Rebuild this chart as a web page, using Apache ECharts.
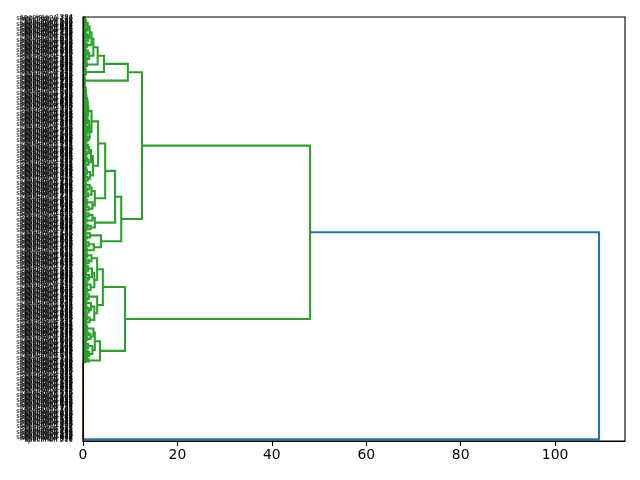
<!DOCTYPE html>
<html><head><meta charset="utf-8">
<script src="https://cdn.jsdelivr.net/npm/echarts@6/dist/echarts.min.js"></script>
<style>html,body{margin:0;padding:0;background:#fff}#c{width:640px;height:480px}</style>
</head><body><div id="c"></div>
<script>
// Merge heights between consecutive leaves (bottom -> top), read/.
const orangeGaps = [0,0,0,0,0,0,0,0,0,0, 0,0,0,0,0,0,0,0,0,0, 0,0,0,0,0,0,0,0,0,0,
                    0,0,0,0,0,0,0,0,0,0, 0,0,0,0,0,0,0,0,0,0, 0,0,0,0,0,0,0,0,0,0,
                    0,0,0,0,0,0,0,0,0,0, 0,0,0];
const rootHeight = 109.3;
const b1Gaps  = [0.5,1.2,0.7, 3.6,
                 0.4,0.9,0.3,1.3,0.6,1.0,0.4,2.0,0.35,0.7,1.1,0.4,0.6,0.3,0.5, 2.5,
                 0.6,0.3,0.9,1.6,0.4,0.7,1.2,0.35,2.2,0.5,0.9,0.4,0.6,0.3,0.7];
const bJoin1 = 8.9;
const b2lGaps = [0.4,0.7,0.3,1.4,0.5,0.9,0.35,0.8,0.45,2.4,0.7,0.3,1.2,0.5,0.4,0.8,1.7,0.35,0.6,0.3,0.7, 3.0,
                 0.4,0.8,0.3,1.2,0.5,0.35,0.7];
const bJoin2 = 4.2;
const b2uGaps = [0.5,0.9,0.3,0.4,1.6,0.7,0.35,0.8,0.45,2.4,0.5,0.3,1.0,0.4,1.3,0.6,0.35,0.45,1.9,0.7,0.3,0.5,1.1,0.4,0.7, 3.0,
                 0.4,0.7,0.3,1.2,0.5,1.8,0.35,0.6,0.9,0.3,0.45];
const greenHeight = 48.1;
const a2lGaps = [0.5,0.8,0.3,2.3,0.4,0.7,1.2,0.35,0.6,0.3,0.45, 3.8, 0.5,0.9,0.3,1.5,0.4,0.7,0.35];
const aJoin1 = 8.1;
const a2uGaps = [0.4,0.7,1.6,0.3,1.0,0.5,0.35, 2.5, 0.5,0.8,0.3,2.0,0.45,0.7,1.2,0.35,0.5,
                 6.8,
                 0.4,0.5,1.2,0.3,0.7,2.0,0.5,0.35,0.9,0.7,0.3,0.4,0.6, 2.5,
                 0.5,1.1,0.3,0.45,1.8,0.7,0.35,0.8,1.4,0.4,0.6,0.3,0.5,
                 4.7,
                 0.4,0.5,1.0,0.3,0.45,0.4,1.5,0.7,0.8,0.35, 0.7,0.5,0.3,0.6,2.1,0.4,0.5,1.2,0.3,0.45,
                 0.9,0.35,0.7,1.7,0.4,0.6,0.3,0.8,0.5,1.3, 0.35,0.4,1.0,0.3,0.7,0.45,0.5,
                 3.2,
                 0.5,0.9,0.4,1.2,0.7,0.45,1.4,0.5,0.8,0.4, 1.1,0.6,0.35,0.9,0.5,1.3,0.4,0.7,0.5,1.0,
                 0.5,0.6,1.8,0.6,0.9,0.5,1.1,0.7,0.5,0.8, 0.6,1.0,0.5,0.65,0.7,0.5,0.9,0.45,0.6,0.7,
                 0.45,0.5,0.65,0.4,0.6,0.35,0.5,0.45,0.55,0.3, 0.45,0.35,0.3];
const aJoin2 = 12.5;
const a1bGaps = [0.15,0.3,0.2,0.4,0.15,0.3,0.25];
const aJoin3 = 9.5;
const a1aGaps = [0.2,0.4,0.25,0.6,0.3,0.2,0.35, 4.45,
                 0.3,0.5,0.8,0.2,0.4, 3.1,
                 0.4,0.8,0.3,0.6,1.3,0.35,0.7,1.0,0.4,0.3,0.5, 2.2,
                 0.4,0.7,0.3,0.9,0.5,1.8,0.35,0.45,1.1,0.3, 0.6,0.4,0.8,0.35,1.4,0.5,0.3,0.7,0.4,1.0,
                 0.3,0.45,0.35,0.6,0.4,0.3,0.5,0.35,0.4];
const xTicks = [0, 20, 40, 60, 80, 100];
const labelStems = ['specimen ', 'specimen_A ', 'specimen ', 'specimen 1', 'specimens '];

const gaps = [].concat(orangeGaps, [rootHeight], b1Gaps, [bJoin1], b2lGaps, [bJoin2], b2uGaps,
  [greenHeight], a2lGaps, [aJoin1], a2uGaps, [aJoin2], a1bGaps, [aJoin3], a1aGaps);
const N = gaps.length + 1;
// leaf names are unreadable in the reference; placeholder names
const leafLabels = [];
for (let i = 0; i < N; i++) leafLabels.push(labelStems[(i * 7) % 5] + String((i * 617 + 211) % 1000).padStart(3, '0'));

const links = { blue: [], orange: [], green: [] };
function build(lo, hi, col) {
  if (lo === hi) return { pos: lo * 10 + 5, h: 0 };
  let m = lo;
  for (let k = lo; k < hi; k++) if (gaps[k] > gaps[m]) m = k;
  const h = gaps[m];
  const isRoot = (lo === 0 && hi === N - 1);
  const L = build(lo, m, isRoot ? 'orange' : col);
  const R = build(m + 1, hi, isRoot ? 'green' : col);
  links[isRoot ? 'blue' : col].push([L.h, L.pos, h, L.pos, h, R.pos, R.h, R.pos]);
  return { pos: (L.pos + R.pos) / 2, h: h };
}
build(0, N - 1, 'blue');

function renderItem(params, api) {
  const pts = [];
  for (let k = 0; k < 4; k++) pts.push(api.coord([api.value(2 * k), api.value(2 * k + 1)]));
  return { type: 'polyline', shape: { points: pts },
    style: { stroke: api.visual('color'), lineWidth: 2.08, fill: 'none' } };
}
function mk(data, color, z) {
  return { type: 'custom', renderItem: renderItem, data: data, xAxisIndex: 0, yAxisIndex: 1,
    encode: { x: [0, 2, 4, 6], y: [1, 3, 5, 7] }, itemStyle: { color: color }, z: z,
    silent: true, clip: false };
}

const chart = echarts.init(document.getElementById('c'), null, { renderer: 'canvas' });
chart.setOption({
  animation: false,
  backgroundColor: '#fff',
  grid: { left: 83, right: 15, top: 17, bottom: 39, show: true, borderColor: '#000', borderWidth: 1.1,
    backgroundColor: 'transparent', z: 5 },
  xAxis: { type: 'value', min: 0, max: 114.8,
    axisLine: { show: true, lineStyle: { color: '#000', width: 1.1 } },
    axisTick: { show: true, length: 4.9, lineStyle: { color: '#000', width: 1.1 }, customValues: xTicks },
    axisLabel: { color: '#000', fontSize: 13.9, fontFamily: 'DejaVu Sans', margin: 7, customValues: xTicks },
    splitLine: { show: false } },
  yAxis: [
    { type: 'category', data: leafLabels, boundaryGap: true, z: 6,
      axisLine: { show: true, lineStyle: { color: '#000', width: 1.1 } },
      axisTick: { show: false },
      axisLabel: { interval: 0, color: '#000', fontSize: 6.9, fontFamily: 'DejaVu Sans', margin: 10 },
      splitLine: { show: false } },
    { type: 'value', min: 0, max: N * 10, show: false, splitLine: { show: false } }
  ],
  series: [ mk(links.orange, '#ff7f0e', 1), mk(links.green, '#2ca02c', 2), mk(links.blue, '#1f77b4', 2) ]
});
</script></body></html>
